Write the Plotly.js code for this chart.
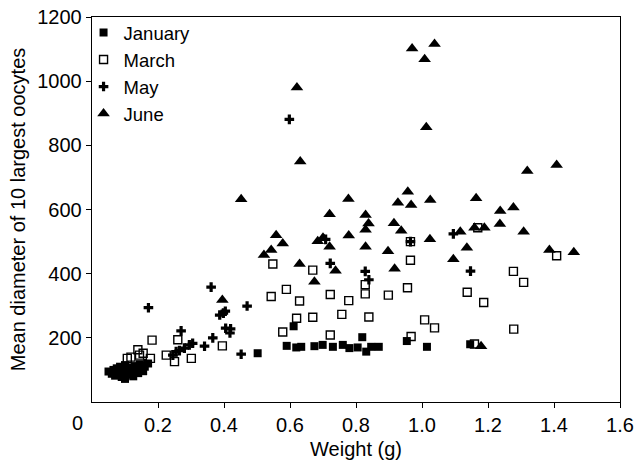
<!DOCTYPE html>
<html>
<head>
<meta charset="utf-8">
<script src="https://cdn.plot.ly/plotly-3.0.1.min.js"></script>
<style>html,body{margin:0;padding:0;background:#fff}#chart{width:638px;height:465px}</style>
</head>
<body>
<div id="chart"></div>
<script>
// January (filled squares)
const janX = [0.05,0.06,0.065,0.07,0.075,0.08,0.085,0.09,0.095,0.10,0.10,0.105,0.11,0.115,0.12,0.12,0.125,0.13,0.135,0.14,0.145,0.15,0.155,0.16,0.17,0.08,0.09,
  0.502,0.590,0.611,0.619,0.634,0.674,0.699,0.730,0.760,0.780,0.805,0.831,0.819,0.846,0.869,0.954,1.015,1.146];
const janY = [95,88,100,82,105,92,110,78,98,72,115,90,102,85,108,95,80,112,98,90,118,104,96,110,120,96,88,
  152,175,236,170,172,174,178,172,178,168,170,157,202,172,172,190,172,180];
// March (open squares)
const marX = [0.107,0.118,0.139,0.144,0.155,0.177,0.182,0.225,0.250,0.260,0.301,0.395,0.543,0.548,0.578,0.589,0.620,0.629,0.669,0.669,0.722,0.722,0.757,0.778,0.828,0.828,0.839,0.898,0.956,0.965,0.965,0.967,1.008,1.038,1.137,1.159,1.169,1.187,1.277,1.278,1.308,1.408];
const marY = [136,140,163,146,152,136,193,146,126,194,136,175,329,430,218,351,261,315,411,264,335,209,273,316,366,337,265,333,356,442,500,204,256,231,342,181,543,310,407,227,373,456];
// May (crosses)
const mayX = [0.14,0.16,0.171,0.245,0.255,0.265,0.280,0.295,0.305,0.270,0.341,0.366,0.361,0.387,0.398,0.404,0.405,0.420,0.418,0.452,0.470,0.598,0.708,0.722,0.828,0.839,0.965,1.095,1.147];
const mayY = [105,120,294,146,157,160,168,178,183,222,174,200,358,271,277,283,230,228,215,149,299,881,507,432,407,381,500,524,408];
// June (triangles)
const junX = [0.395,0.452,0.521,0.543,0.558,0.578,0.621,0.631,0.629,0.674,0.684,0.700,0.720,0.720,0.738,0.777,0.778,0.829,0.838,0.829,0.829,0.897,0.915,0.917,0.937,0.927,0.957,0.967,0.970,1.008,1.013,1.038,1.025,1.024,1.095,1.116,1.136,1.159,1.164,1.179,1.189,1.237,1.236,1.277,1.308,1.319,1.386,1.408,1.460];
const junY = [318,632,458,474,520,494,980,750,430,375,501,512,585,484,409,633,519,583,556,537,484,470,557,415,534,621,655,614,1102,1068,856,1116,630,507,445,531,481,543,635,174,543,595,555,606,531,720,474,739,467];

const xTicks = [0.2,0.4,0.6,0.8,1.0,1.2,1.4,1.6];
const xTickText = ['0.2','0.4','0.6','0.8','1.0','1.2','1.4','1.6'];
const yTicks = [200,400,600,800,1000,1200];

const FONT = 'Arial, "Liberation Sans", sans-serif';
const FS = 20;
const traces = [
  {x: janX, y: janY, name: 'January', type: 'scatter', mode: 'markers',
   marker: {symbol: 'square', size: 8, color: '#000'}},
  {x: marX, y: marY, name: 'March', type: 'scatter', mode: 'markers',
   marker: {symbol: 'square-open', size: 8, color: '#000', line: {width: 1.4, color: '#000'}}},
  {x: mayX, y: mayY, name: 'May', type: 'scatter', mode: 'markers',
   marker: {symbol: 'cross', size: 8, color: '#000'}},
  {x: junX, y: junY, name: 'June', type: 'scatter', mode: 'markers',
   marker: {symbol: 'triangle-up', size: 11, color: '#000'}}
];

const layout = {
  width: 638, height: 465,
  margin: {l: 92, r: 18, t: 17, b: 63},
  paper_bgcolor: '#fff', plot_bgcolor: '#fff',
  font: {family: FONT, size: FS, color: '#000'},
  showlegend: true,
  legend: {x: -0.016, y: 1.008, xanchor: 'left', yanchor: 'top', bgcolor: 'rgba(0,0,0,0)',
           font: {family: FONT, size: 18.5, color: '#000'}, itemwidth: 30, tracegroupgap: 0},
  xaxis: {range: [0, 1.6], tickvals: xTicks, ticktext: xTickText, ticks: 'outside', ticklen: 5,
          tickcolor: '#000', showline: true, linecolor: '#000', linewidth: 1.3, mirror: true,
          showgrid: false, zeroline: false, tickfont: {family: FONT, size: FS},
          title: {text: 'Weight (g)', font: {family: FONT, size: FS}, standoff: 6}},
  yaxis: {range: [0, 1200], tickvals: yTicks, ticks: 'outside', ticklen: 5,
          tickcolor: '#000', showline: true, linecolor: '#000', linewidth: 1.3, mirror: true,
          showgrid: false, zeroline: false, tickfont: {family: FONT, size: FS},
          title: {text: 'Mean diameter of 10 largest oocytes', font: {family: FONT, size: FS}, standoff: 6}},
  annotations: [{text: '0', x: 0, xref: 'x', y: 0, yref: 'paper', xanchor: 'center', yanchor: 'top',
                 xshift: -15, yshift: -8, showarrow: false, font: {family: FONT, size: FS, color: '#000'}}]
};
Plotly.newPlot('chart', traces, layout, {displayModeBar: false, staticPlot: true});
</script>
</body>
</html>
